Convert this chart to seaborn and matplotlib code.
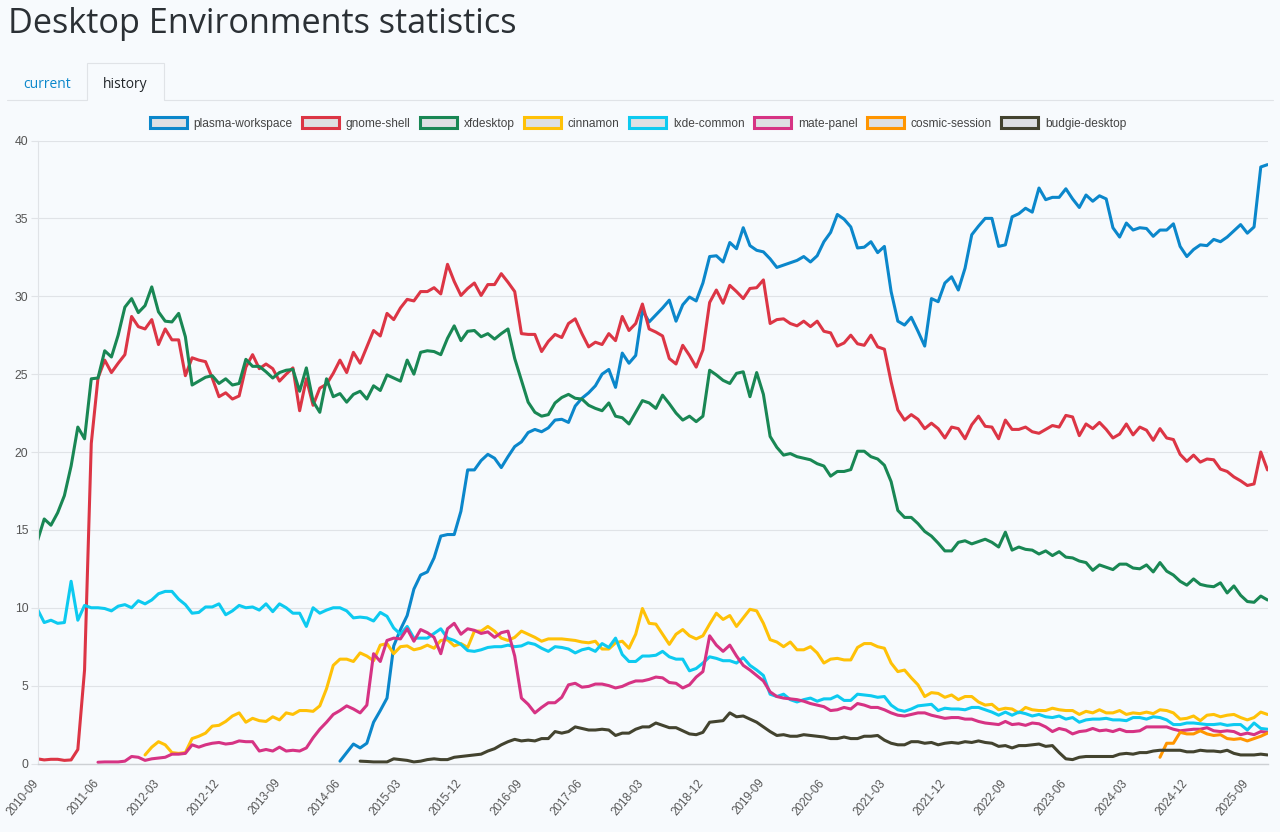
#!/usr/bin/env python3
"""Desktop environment usage history, monthly share per package."""

import matplotlib
matplotlib.use('Agg')
import matplotlib.pyplot as plt
from matplotlib.lines import Line2D
from matplotlib.patches import Patch, Polygon
from matplotlib.transforms import ScaledTranslation
import pandas as pd
import seaborn as sns

FIRST_MONTH = '2010-09'
N_MONTHS = 184
TICK_EVERY = 9

# each series starts at month index <name>_start
plasma_start = 45
plasma = [
    0.15, 0.7, 1.25, 1.0, 1.3, 2.65, 3.4, 4.2, 7.55, 8.6, 9.5, 11.2, 12.1, 12.3, 13.2,
    14.6, 14.7, 14.7, 16.2, 18.85, 18.85, 19.45, 19.85, 19.6, 19.0, 19.7, 20.35, 20.65, 21.25, 21.45,
    21.3, 21.55, 22.05, 22.1, 21.9, 22.95, 23.45, 23.8, 24.25, 25.0, 25.3, 24.15, 26.35, 25.7, 26.2,
    29.1, 28.35, 28.8, 29.25, 29.75, 28.4, 29.45, 29.95, 29.7, 30.85, 32.55, 32.6, 32.2, 33.45, 33.05,
    34.4, 33.25, 32.95, 32.85, 32.4, 31.85, 32.0, 32.15, 32.3, 32.55, 32.2, 32.6, 33.5, 34.1, 35.25,
    34.95, 34.45, 33.1, 33.15, 33.5, 32.8, 33.2, 30.3, 28.4, 28.15, 28.65, 27.75, 26.8, 29.85, 29.65,
    30.85, 31.25, 30.4, 31.8, 33.95, 34.5, 35.0, 35.0, 33.2, 33.3, 35.1, 35.3, 35.65, 35.4, 36.95,
    36.2, 36.35, 36.35, 36.9, 36.25, 35.7, 36.5, 36.1, 36.45, 36.25, 34.4, 33.8, 34.7, 34.25, 34.4,
    34.35, 33.85, 34.25, 34.25, 34.65, 33.2, 32.55, 33.0, 33.3, 33.25, 33.65, 33.5, 33.8, 34.2, 34.6,
    34.05, 34.45, 38.3, 38.45,
]
gnome_start = 0
gnome = [
    0.3, 0.23, 0.27, 0.27, 0.2, 0.23, 0.9, 6.0, 20.55, 24.75, 25.9, 25.1, 25.7, 26.25, 28.7,
    28.05, 27.9, 28.5, 26.9, 27.9, 27.2, 27.2, 24.9, 26.05, 25.9, 25.8, 24.75, 23.55, 23.8, 23.4,
    23.6, 25.45, 26.25, 25.35, 25.65, 25.35, 24.55, 25.0, 25.4, 22.65, 24.7, 23.0, 24.1, 24.35, 25.05,
    25.9, 25.1, 26.4, 25.7, 26.75, 27.8, 27.45, 28.9, 28.5, 29.25, 29.8, 29.7, 30.3, 30.3, 30.55,
    30.15, 32.05, 30.95, 30.05, 30.5, 30.85, 30.05, 30.75, 30.75, 31.45, 30.9, 30.3, 27.6, 27.55, 27.55,
    26.45, 27.1, 27.55, 27.35, 28.25, 28.55, 27.6, 26.75, 27.05, 26.9, 27.6, 27.15, 28.7, 27.8, 28.25,
    29.5, 27.9, 27.7, 27.45, 26.0, 25.65, 26.85, 26.2, 25.45, 26.55, 29.6, 30.4, 29.55, 30.7, 30.3,
    29.85, 30.5, 30.55, 31.05, 28.25, 28.5, 28.55, 28.25, 28.1, 28.4, 28.05, 28.4, 27.75, 27.65, 26.8,
    27.0, 27.5, 26.95, 26.85, 27.5, 26.75, 26.6, 24.5, 22.7, 22.05, 22.4, 22.1, 21.5, 21.85, 21.5,
    20.9, 21.6, 21.5, 20.85, 21.75, 22.3, 21.65, 21.6, 20.85, 22.05, 21.45, 21.45, 21.6, 21.3, 21.2,
    21.45, 21.7, 21.6, 22.35, 22.25, 21.05, 21.8, 21.5, 21.9, 21.45, 20.9, 21.15, 21.8, 21.1, 21.6,
    21.4, 20.75, 21.5, 20.9, 20.8, 19.85, 19.4, 19.8, 19.35, 19.55, 19.5, 18.9, 18.75, 18.4, 18.15,
    17.85, 17.95, 20.0, 18.85,
]
xfdesktop_start = 0
xfdesktop = [
    14.3, 15.7, 15.3, 16.1, 17.2, 19.1, 21.6, 20.85, 24.7, 24.75, 26.5, 26.1, 27.5, 29.3, 29.85,
    28.95, 29.4, 30.6, 29.0, 28.4, 28.35, 28.9, 27.4, 24.3, 24.55, 24.8, 24.9, 24.4, 24.7, 24.3,
    24.4, 25.95, 25.5, 25.5, 25.15, 24.75, 25.1, 25.25, 25.3, 23.9, 25.4, 23.25, 22.55, 24.7, 23.55,
    23.75, 23.2, 23.7, 23.9, 23.4, 24.25, 23.95, 24.95, 24.75, 24.55, 25.9, 25.0, 26.4, 26.5, 26.45,
    26.25, 27.3, 28.1, 27.15, 27.75, 27.8, 27.4, 27.6, 27.25, 27.6, 27.9, 26.0, 24.6, 23.2, 22.55,
    22.3, 22.4, 23.15, 23.5, 23.7, 23.45, 23.4, 23.0, 22.8, 22.65, 23.15, 22.3, 22.2, 21.8, 22.55,
    23.3, 23.15, 22.8, 23.65, 23.1, 22.5, 22.05, 22.3, 21.95, 22.3, 25.25, 24.95, 24.6, 24.4, 25.05,
    25.15, 23.55, 25.1, 23.7, 21.0, 20.3, 19.8, 19.9, 19.7, 19.6, 19.5, 19.25, 19.1, 18.45, 18.75,
    18.75, 18.87, 20.05, 20.05, 19.7, 19.55, 19.15, 18.1, 16.25, 15.8, 15.8, 15.4, 14.9, 14.6, 14.15,
    13.65, 13.65, 14.2, 14.3, 14.1, 14.25, 14.4, 14.2, 13.9, 14.85, 13.7, 13.9, 13.75, 13.7, 13.45,
    13.65, 13.35, 13.6, 13.25, 13.2, 13.0, 12.9, 12.4, 12.75, 12.6, 12.45, 12.8, 12.8, 12.55, 12.5,
    12.75, 12.3, 12.9, 12.35, 12.1, 11.7, 11.45, 11.85, 11.5, 11.4, 11.35, 11.6, 10.95, 11.4, 10.8,
    10.4, 10.35, 10.75, 10.5,
]
cinnamon_start = 16
cinnamon = [
    0.55, 1.05, 1.4, 1.2, 0.7, 0.65, 0.7, 1.6, 1.75, 1.95, 2.4, 2.45, 2.7, 3.05, 3.25,
    2.65, 2.9, 2.75, 2.7, 3.0, 2.8, 3.25, 3.15, 3.4, 3.4, 3.35, 3.7, 4.8, 6.3, 6.7,
    6.7, 6.55, 7.1, 6.9, 6.6, 7.6, 7.7, 7.05, 7.5, 7.55, 7.3, 7.4, 7.6, 7.4, 7.9,
    7.95, 7.55, 7.7, 7.45, 8.5, 8.5, 8.8, 8.5, 8.05, 7.9, 8.1, 8.5, 8.3, 8.1, 7.85,
    8.0, 8.0, 8.0, 7.95, 7.9, 7.8, 7.75, 7.85, 7.35, 7.35, 7.75, 7.85, 7.4, 8.3, 9.95,
    9.0, 8.95, 8.3, 7.65, 8.3, 8.6, 8.2, 8.0, 8.2, 8.95, 9.65, 9.25, 9.5, 8.8, 9.35,
    9.9, 9.8, 9.0, 7.95, 7.8, 7.5, 7.8, 7.3, 7.3, 7.5, 7.1, 6.45, 6.7, 6.75, 6.65,
    6.65, 7.45, 7.7, 7.7, 7.5, 7.4, 6.45, 5.9, 6.0, 5.5, 5.05, 4.3, 4.55, 4.5, 4.25,
    4.4, 4.1, 4.3, 4.3, 3.95, 3.75, 3.8, 3.45, 3.55, 3.5, 3.25, 3.6, 3.45, 3.4, 3.4,
    3.55, 3.45, 3.4, 3.4, 3.15, 3.35, 3.25, 3.45, 3.25, 3.25, 3.4, 3.15, 3.25, 3.2, 3.3,
    3.2, 3.45, 3.4, 3.25, 2.85, 2.9, 3.05, 2.75, 3.1, 3.15, 3.0, 3.1, 3.15, 2.95, 2.8,
    2.95, 3.3, 3.15,
]
lxde_start = 0
lxde = [
    9.9, 9.05, 9.2, 9.0, 9.05, 11.7, 9.2, 10.15, 10.0, 10.0, 9.95, 9.8, 10.1, 10.2, 10.0,
    10.45, 10.25, 10.5, 10.9, 11.05, 11.05, 10.55, 10.2, 9.65, 9.7, 10.05, 10.05, 10.25, 9.55, 9.8,
    10.15, 10.0, 10.05, 9.85, 10.25, 9.75, 10.25, 10.0, 9.65, 9.65, 8.8, 10.0, 9.65, 9.85, 10.0,
    10.0, 9.8, 9.35, 9.4, 9.35, 9.15, 9.7, 9.45, 8.7, 8.3, 8.8, 8.05, 8.05, 8.05, 8.35,
    8.65, 8.05, 7.9, 7.65, 7.25, 7.2, 7.3, 7.45, 7.5, 7.5, 7.6, 7.5, 7.55, 7.75, 7.65,
    7.4, 7.2, 7.5, 7.45, 7.35, 7.1, 7.3, 7.4, 7.2, 7.7, 7.45, 8.05, 7.0, 6.55, 6.55,
    6.9, 6.9, 6.95, 7.2, 6.85, 6.7, 6.7, 5.95, 6.1, 6.45, 6.85, 6.75, 6.6, 6.6, 6.45,
    6.8, 6.3, 6.0, 5.65, 4.45, 4.3, 4.45, 4.1, 3.95, 4.1, 4.2, 4.0, 4.15, 4.15, 4.35,
    4.05, 4.05, 4.45, 4.4, 4.35, 4.25, 4.3, 3.75, 3.45, 3.35, 3.5, 3.7, 3.75, 3.8, 3.4,
    3.55, 3.5, 3.5, 3.45, 3.6, 3.6, 3.45, 3.3, 3.1, 3.3, 3.1, 3.3, 3.2, 3.05, 3.15,
    3.0, 2.95, 3.05, 2.85, 2.95, 2.65, 2.8, 2.85, 2.85, 2.9, 2.8, 2.8, 2.75, 2.95, 2.95,
    2.85, 3.0, 2.95, 2.8, 2.5, 2.5, 2.6, 2.6, 2.55, 2.5, 2.5, 2.55, 2.45, 2.5, 2.5,
    2.15, 2.6, 2.25, 2.2,
]
mate_start = 9
mate = [
    0.08, 0.1, 0.1, 0.1, 0.15, 0.45, 0.4, 0.2, 0.3, 0.35, 0.4, 0.6, 0.6, 0.65, 1.2,
    1.05, 1.2, 1.3, 1.35, 1.25, 1.3, 1.45, 1.4, 1.4, 0.8, 0.9, 0.8, 1.05, 0.8, 0.85,
    0.8, 1.0, 1.65, 2.2, 2.65, 3.15, 3.4, 3.7, 3.5, 3.25, 3.75, 7.05, 6.55, 7.9, 8.05,
    8.0, 8.65, 7.85, 8.6, 8.4, 8.1, 7.05, 8.65, 9.0, 8.3, 8.65, 8.55, 8.35, 8.45, 8.1,
    8.4, 8.5, 6.9, 4.2, 3.8, 3.25, 3.6, 3.9, 3.9, 4.25, 5.05, 5.15, 4.9, 4.95, 5.1,
    5.1, 5.0, 4.85, 4.95, 5.15, 5.3, 5.3, 5.4, 5.55, 5.5, 5.2, 5.15, 4.85, 5.05, 5.55,
    5.9, 8.2, 7.6, 7.2, 7.6, 6.9, 6.3, 6.0, 5.65, 5.3, 4.6, 4.3, 4.2, 4.15, 4.1,
    4.0, 3.85, 3.75, 3.65, 3.4, 3.45, 3.6, 3.5, 3.85, 3.75, 3.6, 3.6, 3.45, 3.25, 3.1,
    3.05, 3.15, 3.25, 3.25, 3.1, 3.0, 2.9, 2.95, 2.95, 2.85, 2.85, 2.7, 2.6, 2.55, 2.5,
    2.7, 2.5, 2.55, 2.45, 2.6, 2.55, 2.35, 2.05, 2.25, 2.15, 1.9, 2.05, 2.1, 2.25, 2.1,
    2.15, 2.05, 2.2, 2.05, 2.05, 2.1, 2.35, 2.35, 2.35, 2.35, 2.2, 2.1, 2.15, 2.2, 2.2,
    2.3, 2.1, 2.05, 2.1, 2.05, 1.85, 1.95, 1.85, 2.05, 2.0,
]
cosmic_start = 167
cosmic = [0.4, 1.3, 1.3, 2.0, 1.9, 1.9, 2.1, 1.9, 1.8, 1.85, 1.6, 1.55, 1.6, 1.45, 1.6, 1.75, 1.95]
budgie_start = 48
budgie = [
    0.15, 0.13, 0.1, 0.1, 0.1, 0.3, 0.25, 0.2, 0.1, 0.15, 0.25, 0.3, 0.25, 0.25, 0.4,
    0.45, 0.5, 0.55, 0.6, 0.8, 0.95, 1.2, 1.4, 1.55, 1.45, 1.5, 1.45, 1.6, 1.6, 2.05,
    1.95, 2.05, 2.35, 2.25, 2.15, 2.15, 2.2, 2.15, 1.8, 1.95, 1.95, 2.2, 2.35, 2.35, 2.6,
    2.45, 2.3, 2.3, 2.1, 1.9, 1.85, 2.0, 2.65, 2.7, 2.75, 3.25, 3.0, 3.05, 2.85, 2.65,
    2.35, 2.05, 1.8, 1.85, 1.75, 1.75, 1.85, 1.8, 1.75, 1.7, 1.6, 1.6, 1.7, 1.6, 1.6,
    1.75, 1.75, 1.8, 1.5, 1.3, 1.2, 1.2, 1.4, 1.4, 1.3, 1.35, 1.2, 1.3, 1.35, 1.3,
    1.4, 1.35, 1.45, 1.35, 1.3, 1.1, 1.15, 1.0, 1.15, 1.15, 1.2, 1.25, 1.1, 1.15, 0.7,
    0.3, 0.25, 0.4, 0.45, 0.45, 0.45, 0.45, 0.45, 0.6, 0.65, 0.6, 0.7, 0.7, 0.8, 0.85,
    0.85, 0.85, 0.85, 0.75, 0.75, 0.85, 0.8, 0.8, 0.75, 0.85, 0.65, 0.55, 0.55, 0.55, 0.6,
    0.55,
]

names = ['plasma-workspace', 'gnome-shell', 'xfdesktop', 'cinnamon',
         'lxde-common', 'mate-panel', 'cosmic-session', 'budgie-desktop']
colors = ['#0b87cb', '#dc3545', '#198754', '#ffc107',
          '#0dcaf0', '#d63384', '#ff9500', '#43432f']
starts = [plasma_start, gnome_start, xfdesktop_start, cinnamon_start,
          lxde_start, mate_start, cosmic_start, budgie_start]
series = [plasma, gnome, xfdesktop, cinnamon, lxde, mate, cosmic, budgie]

BG = '#f7fafd'
GRID = '#e0e3e7'
W, H = 1280, 832


def fx(px):
    return px / W


def fy(px):
    return 1 - px / H


def build_table():
    frames = []
    for name, start, values in zip(names, starts, series):
        frames.append(pd.DataFrame({
            'month': range(start, start + len(values)),
            'share': values,
            'package': name,
        }))
    return pd.concat(frames, ignore_index=True)


def draw_header(fig):
    fig.text(fx(8), fy(33), 'Desktop Environments statistics', fontsize=24.7,
             color='#2b3035', family=['Open Sans', 'DejaVu Sans'])
    fig.add_artist(Line2D([fx(7), fx(87)], [fy(100)] * 2, color=GRID, lw=0.8))
    fig.add_artist(Line2D([fx(164), fx(1273)], [fy(100)] * 2, color=GRID, lw=0.8))
    tab = [(87, 100), (87, 63), (164, 63), (164, 100)]
    fig.add_artist(Polygon([(fx(a), fy(b)) for a, b in tab], closed=False,
                           facecolor='none', edgecolor=GRID, lw=0.8))
    fig.text(fx(47.5), fy(84.5), 'current', fontsize=10, color='#0b87cb',
             ha='center', va='center', family=['Open Sans', 'DejaVu Sans'])
    fig.text(fx(125.5), fy(84.5), 'history', fontsize=10, color='#212529',
             ha='center', va='center', family=['Open Sans', 'DejaVu Sans'])


def main():
    sns.set_theme(style='white', rc={'figure.facecolor': BG, 'axes.facecolor': BG})
    plt.rcParams['font.family'] = ['Liberation Sans', 'DejaVu Sans']

    data = build_table()
    fig = plt.figure(figsize=(W / 100, H / 100), dpi=100)
    ax = fig.add_axes([fx(37.5), fy(763.5), fx(1267.5 - 37.5), (763.5 - 140.5) / H])

    sns.lineplot(data=data, x='month', y='share', hue='package', hue_order=names,
                 palette=dict(zip(names, colors)), estimator=None, errorbar=None,
                 linewidth=2.2, legend=False, ax=ax, clip_on=True,
                 solid_joinstyle='round')

    months = pd.date_range(FIRST_MONTH, periods=N_MONTHS, freq='MS').strftime('%Y-%m')
    tick_pos = list(range(0, N_MONTHS, TICK_EVERY))
    ax.set_xlim(0, N_MONTHS - 1)
    ax.set_ylim(0, 40)
    ax.set_xticks(tick_pos)
    ax.set_xticklabels([months[i] for i in tick_pos], rotation=50, ha='right', va='center',
                       rotation_mode='anchor', fontsize=8.4, color='#555555')
    ax.set_yticks(range(0, 41, 5))
    ax.tick_params(axis='y', left=True, length=5, width=0.8, color=GRID, pad=1.6,
                   labelsize=8.8, labelcolor='#555555')
    ax.tick_params(axis='x', bottom=False, pad=6.5)
    # nudge the rotated labels back under their month
    shift = ScaledTranslation(-1 / 100, 0, fig.dpi_scale_trans)
    for label in ax.get_xticklabels():
        label.set_transform(label.get_transform() + shift)
    ax.set_xlabel('')
    ax.set_ylabel('')
    ax.grid(True, axis='y', color=GRID, lw=0.8)
    ax.set_axisbelow(True)
    for side in ['top', 'right']:
        ax.spines[side].set_visible(False)
    ax.spines['left'].set_color(GRID)
    ax.spines['bottom'].set_color('#cdd0d4')
    ax.spines['left'].set_linewidth(0.8)
    ax.spines['bottom'].set_linewidth(1)

    handles = [Patch(facecolor='#dee0e3', edgecolor=c, linewidth=2.2, label=n)
               for n, c in zip(names, colors)]
    fig.legend(handles=handles, ncol=len(names), loc='center',
               bbox_to_anchor=(fx(638), fy(123.5)), frameon=False, fontsize=8.6,
               handlelength=3.1, handleheight=1.0, handletextpad=0.55,
               columnspacing=0.81, labelcolor='#444444', borderpad=0, borderaxespad=0)

    draw_header(fig)
    fig.savefig('out.png', dpi=100, facecolor=BG)


if __name__ == '__main__':
    main()
